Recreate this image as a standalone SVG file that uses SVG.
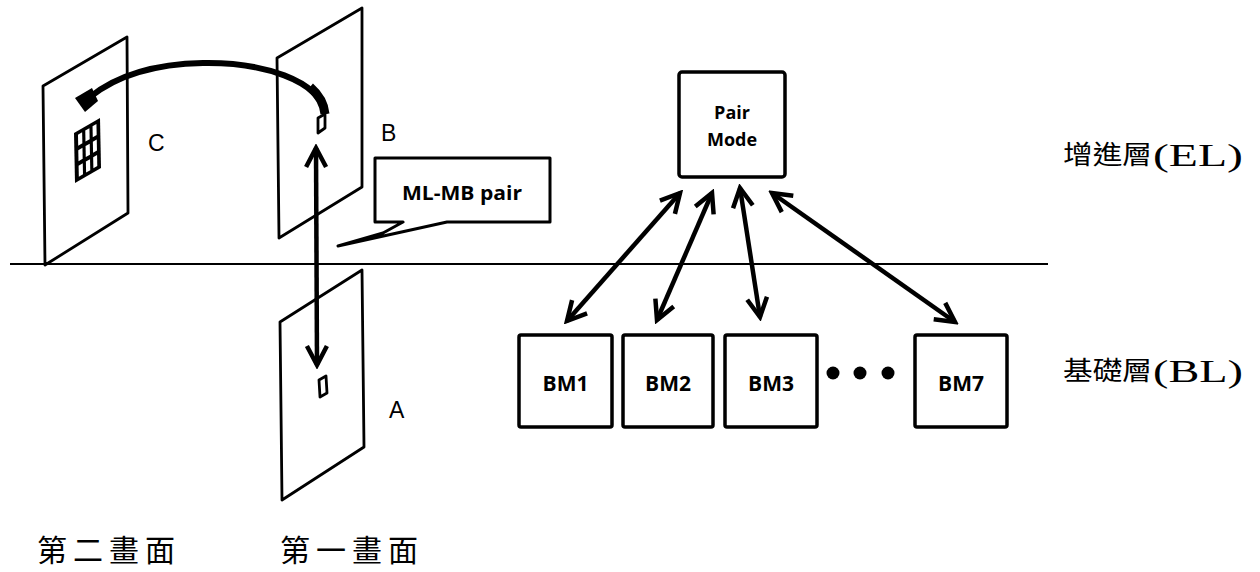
<svg xmlns="http://www.w3.org/2000/svg" width="1260" height="572" viewBox="0 0 1260 572">
  <style>
    .frame { fill: #fff; stroke: #000; stroke-width: 2.8; stroke-linejoin: round; }
    .blk { fill: #fff; stroke: #000; stroke-width: 2.8; stroke-linejoin: round; }
    .box { fill: #fff; stroke: #000; stroke-width: 3.5; }
    .lbl { font-family: "Liberation Sans", Arial, sans-serif; font-size: 23px; fill: #000; }
    .sans { font-family: "Open Sans", "Liberation Sans", sans-serif; font-weight: 700; fill: #000; text-anchor: middle; }
    .cjk { font-family: "Noto Sans CJK TC", "Noto Sans CJK SC", sans-serif; fill: #000; }
    .serif { font-family: "Liberation Serif", "Times New Roman", serif; fill: #000; }
    .dbl { stroke: #000; stroke-width: 4.5; fill: none; marker-start: url(#chev); marker-end: url(#chev); }
  </style>
  <defs>
    <marker id="chev" viewBox="-24 -14 28 28" markerWidth="28" markerHeight="28" refX="0" refY="0" markerUnits="userSpaceOnUse" orient="auto-start-reverse">
      <path d="M -19 -10 L 0 0 L -19 10" fill="none" stroke="#000" stroke-width="4.5" stroke-linejoin="miter"/>
    </marker>
  </defs>

  <rect width="1260" height="572" fill="#fff"/>

  <!-- layer divider -->
  <line x1="10" y1="264" x2="1048" y2="264" stroke="#000" stroke-width="2"/>

  <!-- second picture (C) with a 3x3 block grid -->
  <g id="frame-c">
    <polygon class="frame" points="43,86 127,37 128,213 45,265"/>
    <g transform="matrix(26,-15,1,50,74,133)">
      <rect x="0" y="0" width="1" height="1" fill="#000"/>
      <g fill="#fff">
        <rect x="0.15" y="0.08" width="0.16" height="0.22"/>
        <rect x="0.43" y="0.08" width="0.16" height="0.22"/>
        <rect x="0.71" y="0.08" width="0.15" height="0.22"/>
        <rect x="0.15" y="0.39" width="0.16" height="0.22"/>
        <rect x="0.43" y="0.39" width="0.16" height="0.22"/>
        <rect x="0.71" y="0.39" width="0.15" height="0.22"/>
        <rect x="0.15" y="0.70" width="0.16" height="0.22"/>
        <rect x="0.43" y="0.70" width="0.16" height="0.22"/>
        <rect x="0.71" y="0.70" width="0.15" height="0.22"/>
      </g>
    </g>
    <text class="lbl" x="148" y="151">C</text>
  </g>

  <!-- first picture, enhancement layer (B) -->
  <g id="frame-b">
    <polygon class="frame" points="277,58 362,8 362,187 279,238"/>
    <polygon class="blk" points="318,118 325,114 325,128 318,133"/>
    <text class="lbl" x="381" y="141">B</text>
  </g>

  <!-- first picture, base layer (A) -->
  <g id="frame-a">
    <polygon class="frame" points="280,322 362,270 364,447 282,500"/>
    <polygon class="blk" points="319,380 326,376 327,393 320,397"/>
    <text class="lbl" x="389" y="418">A</text>
  </g>

  <!-- callout -->
  <g id="callout">
    <path d="M 375 158 H 550 V 222 H 447 L 338 246 L 383 233 L 403 222 H 375 Z" fill="#fff" stroke="#000" stroke-width="3" stroke-linejoin="round"/>
    <text class="sans" x="462" y="200" font-size="20" font-weight="600" textLength="120" lengthAdjust="spacingAndGlyphs">ML-MB pair</text>
  </g>

  <!-- pair mode node -->
  <g id="pair-mode">
    <rect class="box" x="679" y="72" width="106" height="105" rx="3" stroke-width="4"/>
    <text class="sans" x="732" y="119" font-size="18" font-weight="600">Pair</text>
    <text class="sans" x="732" y="146" font-size="18" font-weight="600">Mode</text>
  </g>

  <!-- base layer modes -->
  <g id="bm1">
    <rect class="box" x="519" y="335" width="93" height="92" rx="2"/>
    <text class="sans" x="565.5" y="391" font-size="21">BM1</text>
  </g>
  <g id="bm2">
    <rect class="box" x="623" y="335" width="90" height="92" rx="2"/>
    <text class="sans" x="668" y="391" font-size="21">BM2</text>
  </g>
  <g id="bm3">
    <rect class="box" x="725" y="335" width="92" height="92" rx="2"/>
    <text class="sans" x="771" y="391" font-size="21">BM3</text>
  </g>
  <g id="ellipsis" fill="#000">
    <circle cx="833" cy="373" r="6.5"/>
    <circle cx="860" cy="373" r="6.5"/>
    <circle cx="888" cy="373" r="6.5"/>
  </g>
  <g id="bm7">
    <rect class="box" x="915" y="335" width="92" height="92" rx="2"/>
    <text class="sans" x="961" y="391" font-size="21">BM7</text>
  </g>

  <!-- connectors -->
  <g id="connectors">
    <!-- curved reference arrow from B to C -->
    <path d="M 325 114 C 320 80, 262 62, 203 63 C 152 64, 116 76, 90 97" fill="none" stroke="#000" stroke-width="6"/>
    <path d="M 325 114 C 324 103, 318 94, 310 87" fill="none" stroke="#000" stroke-width="9"/>
    <polygon points="75,98 92,88 98,101 85,112" fill="#000"/>
    <!-- B to A -->
    <line class="dbl" x1="316" y1="148" x2="317" y2="365"/>
    <!-- pair mode to base modes -->
    <line class="dbl" x1="680" y1="193" x2="567" y2="321"/>
    <line class="dbl" x1="712" y1="193" x2="657" y2="320"/>
    <line class="dbl" x1="740" y1="188" x2="760" y2="317"/>
    <line class="dbl" x1="772" y1="193" x2="955" y2="322"/>
  </g>

  <!-- layer and picture labels -->
  <g id="labels">
    <text class="cjk" x="1063" y="164" font-size="26" textLength="89" lengthAdjust="spacingAndGlyphs">增進層</text>
    <text class="serif" x="1153" y="166" font-size="31" textLength="90" lengthAdjust="spacingAndGlyphs">(EL)</text>
    <text class="cjk" x="1063" y="380" font-size="26" textLength="89" lengthAdjust="spacingAndGlyphs">基礎層</text>
    <text class="serif" x="1153" y="382" font-size="31" textLength="90" lengthAdjust="spacingAndGlyphs">(BL)</text>
    <text class="cjk" x="37" y="561" font-size="30" letter-spacing="6">第二畫面</text>
    <text class="cjk" x="280" y="561" font-size="30" letter-spacing="6">第一畫面</text>
  </g>
</svg>
